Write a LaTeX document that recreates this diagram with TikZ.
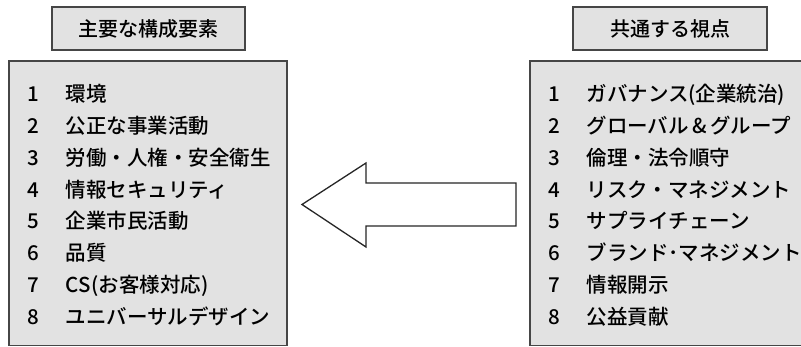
\documentclass[tikz,border=0pt]{standalone}
\usepackage{fontspec}
\setmainfont{Noto Sans CJK JP}[UprightFont={* Medium}]
\definecolor{boxfill}{RGB}{226,226,226}
\definecolor{boxline}{RGB}{70,70,70}
\begin{document}
\begin{tikzpicture}[x=1pt,y=-1pt,
  panel/.style={draw=boxline,line width=1.1pt,fill=boxfill},
  title/.style={font=\fontsize{20}{20}\selectfont,text=black},
  num/.style={anchor=base west,font=\fontsize{20.5}{20.5}\selectfont,text=black},
  item/.style={anchor=base west,font=\fontsize{20.5}{20.5}\selectfont,text=black},
  blockarrow/.style={draw=black!85,line width=1.3pt,fill=white,line join=miter}]
\useasboundingbox (0,0) rectangle (801,347);
\clip (0,0) rectangle (801,347);
% title boxes
\draw[panel] (52,7) rectangle (245,50);
\node[title] (t1) at (148.5,28.5) {主要な構成要素};
\draw[panel] (573,7) rectangle (767,50);
\node[title] (t2) at (670,28.5) {共通する視点};
% list boxes
\draw[panel] (9,61) rectangle (287,345.5);
\draw[panel] (530,61) rectangle (812,345.5);
% left list
\foreach \i/\t in {1/環境,2/公正な事業活動,3/労働・人権・安全衛生,4/情報セキュリティ,5/企業市民活動,6/品質,7/CS\kern1pt(お客様対応),8/ユニバーサルデザイン}{
  \node[num] (ln\i) at (24,{94+(\i-1)*31.86+7.5}) {\i};
  \node[item] (lt\i) at (62,{94+(\i-1)*31.86+7.5}) {\t};
}
% right list
\foreach \i/\t in {1/ガバナンス(企業統治),2/グローバル\,\&\,グループ,3/倫理・法令順守,4/リスク・マネジメント,5/サプライチェーン,6/ブランド･マネジメント,7/情報開示,8/公益貢献}{
  \node[num] (rn\i) at (545,{94+(\i-1)*31.86+7.5}) {\i};
  \node[item] (rt\i) at (583,{94+(\i-1)*31.86+7.5}) {\t};
}
% block arrow
\draw[blockarrow] (516,183) -- (366,183) -- (366,163) -- (302,204.5) -- (366,247) -- (366,226) -- (516,226) -- cycle;
\end{tikzpicture}
\end{document}
